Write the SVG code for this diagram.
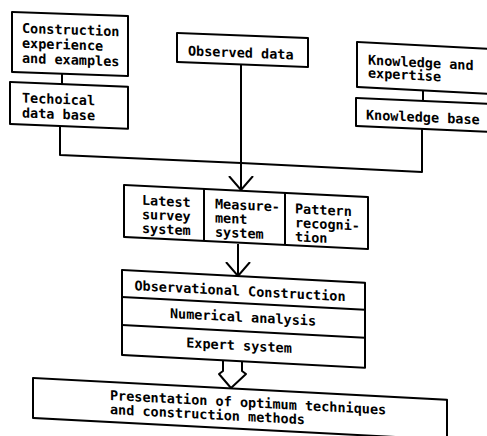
<svg xmlns="http://www.w3.org/2000/svg" width="487" height="436" viewBox="0 0 487 436">
<defs>
<style>
.box{fill:#fff;stroke:#000;stroke-width:2;stroke-linejoin:round}
.div{stroke:#000;stroke-width:2}
.c{fill:none;stroke:#000;stroke-width:2;stroke-linejoin:round}
.t{font-family:"DejaVu Sans Mono","Liberation Mono",monospace;font-weight:bold;font-size:13.5px;fill:#000}
.m{text-anchor:middle}
</style>
<marker id="v" markerUnits="userSpaceOnUse" viewBox="0 0 15 26" refX="14" refY="13" markerWidth="15" markerHeight="26" orient="auto">
<path d="M0,1 L14,13 L0,25" fill="none" stroke="#000" stroke-width="2"/>
</marker>
</defs>
<rect width="487" height="436" fill="#fff"/>
<g id="connectors">
<line class="c" x1="62" y1="74" x2="62" y2="84"/>
<polyline class="c" points="60,125 60,155 241,163 422,172 422,129"/>
<line class="c" x1="423" y1="91" x2="423" y2="101"/>
<line class="c" x1="241" y1="64" x2="241" y2="190" marker-end="url(#v)"/>
<line class="c" x1="238" y1="244" x2="238" y2="276" marker-end="url(#v)"/>
<path class="c" d="M223,360 L223,371 L219,374 L231,388 L246,374 L242,371 L242,361"/>
</g>
<g id="construction-experience" transform="translate(12,12) skewY(2)">
<rect class="box" x="0" y="0" width="116" height="60"/>
<text class="t" x="10" y="20.5">Construction</text>
<text class="t" x="10" y="35.5">experience</text>
<text class="t" x="10" y="50.5">and examples</text>
</g>
<g id="technical-data-base" transform="translate(10,82) skewY(2.3)">
<rect class="box" x="0" y="0" width="118" height="42"/>
<text class="t" x="12" y="20">Techoical</text>
<text class="t" x="12" y="35">data base</text>
</g>
<g id="observed-data" transform="translate(177,33) skewY(2.2)">
<rect class="box" x="0" y="0" width="131" height="29"/>
<text class="t" x="11" y="22">Observed data</text>
</g>
<g id="knowledge-expertise" transform="translate(357,42) skewY(3)">
<rect class="box" x="0" y="0" width="145" height="45"/>
<text class="t" x="11" y="22">Knowledge and</text>
<text class="t" x="11" y="35">expertise</text>
</g>
<g id="knowledge-base" transform="translate(356,98) skewY(2.5)">
<rect class="box" x="0" y="0" width="145" height="28"/>
<text class="t" x="10" y="21">Knowledge base</text>
</g>
<g id="measurement-row" transform="translate(124,185) skewY(2.8)">
<rect class="box" x="0" y="0" width="244" height="52"/>
<line class="div" x1="80" y1="0" x2="80" y2="52"/>
<line class="div" x1="161" y1="0" x2="161" y2="52"/>
<text class="t" x="18" y="19">Latest</text>
<text class="t" x="18" y="33">survey</text>
<text class="t" x="18" y="47">system</text>
<text class="t" x="91" y="19">Measure-</text>
<text class="t" x="91" y="33">ment</text>
<text class="t" x="91" y="47">system</text>
<text class="t" x="171" y="20">Pattern</text>
<text class="t" x="171" y="34">recogni-</text>
<text class="t" x="171" y="48">tion</text>
</g>
<g id="observational-construction" transform="translate(122,270) skewY(3)">
<rect class="box" x="0" y="0" width="243" height="85"/>
<line class="div" x1="0" y1="27" x2="243" y2="27"/>
<line class="div" x1="0" y1="55" x2="243" y2="55"/>
<text class="t m" x="118" y="19.5">Observational Construction</text>
<text class="t m" x="121" y="45.5">Numerical analysis</text>
<text class="t m" x="117" y="74">Expert system</text>
</g>
<g id="presentation" transform="translate(33,378) skewY(3)">
<rect class="box" x="0" y="0" width="414" height="40"/>
<text class="t" x="77" y="18">Presentation of optimum techniques</text>
<text class="t" x="77" y="32">and construction methods</text>
</g>
</svg>
